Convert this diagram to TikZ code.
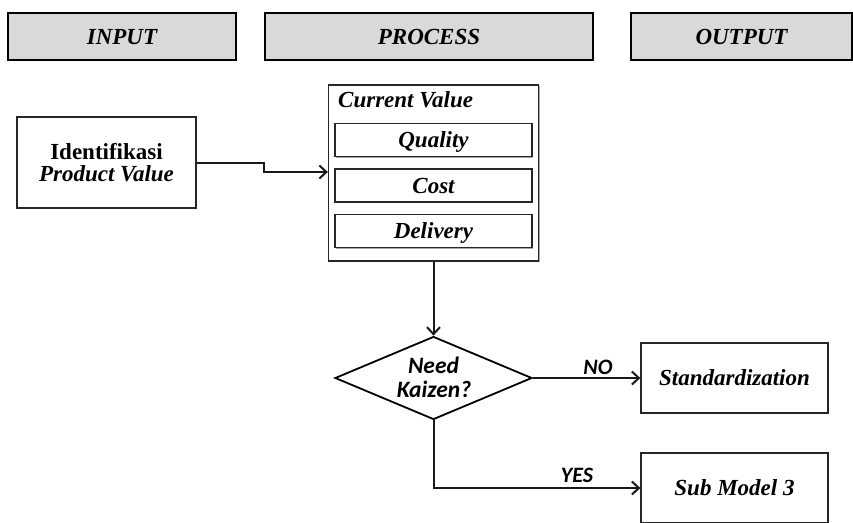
\documentclass[tikz,border=0pt]{standalone}
\usepackage{fontspec}
\setmainfont{Liberation Serif}
\newfontfamily\carlito{Carlito}
\usetikzlibrary{arrows.meta,shapes.geometric,shadows}

\begin{document}
\begin{tikzpicture}[x=1pt,y=-1pt,
  softshadow/.style={drop shadow={shadow xshift=1.3pt,shadow yshift=-1.3pt,opacity=0.35,fill=black}},
  headbox/.style={draw=black, line width=1.5pt, fill=black!15, inner sep=0pt,
    text height=15.5pt, text depth=0pt,
    font=\fontsize{23}{23}\selectfont\bfseries\itshape, softshadow},
  box/.style={draw=black!85, line width=1.3pt, fill=white, inner sep=0pt,
    text height=15.5pt, text depth=0pt,
    font=\fontsize{23}{23}\selectfont\bfseries\itshape, softshadow},
  decision/.style={diamond, draw=black, line width=1.8pt, fill=white, inner sep=0pt,
    aspect=2.4, minimum width=197pt, minimum height=83pt},
  dtext/.style={anchor=base, inner sep=0pt,
    font=\carlito\fontsize{23.5}{24}\selectfont\bfseries\itshape},
  conn/.style={draw=black!90, line width=2pt,
    -{Straight Barb[length=7pt,width=13pt]}},
  branch/.style={font=\carlito\fontsize{22}{22}\selectfont\bfseries\itshape, anchor=base}
]
\useasboundingbox (0,0) rectangle (853,522);
\clip (0,0) rectangle (853,522);

% column headers
\node[headbox, minimum width=228pt, minimum height=47pt] (hin)  at (122,36.5)   {INPUT};
\node[headbox, minimum width=328pt, minimum height=47pt] (hpro) at (429,36.5)   {PROCESS};
\node[headbox, minimum width=221pt, minimum height=47pt] (hout) at (741.5,36.5) {OUTPUT};

% input
\node[box, minimum width=179pt, minimum height=91pt, align=center,
      text height=, text depth=,
      font=\fontsize{23}{22}\selectfont\bfseries] (id) at (106.5,162.5)
      {Identifikasi\\\itshape Product Value};

% process: current value with its three measures
\node[box, minimum width=210pt, minimum height=176pt] (cv) at (433.5,173) {};
\node[anchor=base west, inner sep=0pt, font=\fontsize{23}{23}\selectfont\bfseries\itshape]
      (cvt) at (338,107) {Current Value};
\node[box, minimum width=197pt, minimum height=33pt] (qual) at (433.5,140)   {Quality};
\node[box, minimum width=197pt, minimum height=33pt] (cost) at (433.5,185.5) {Cost};
\node[box, minimum width=197pt, minimum height=33pt] (del)  at (433.5,231)   {Delivery};

% decision
\node[decision] (dec) at (433.5,378) {};
\node[dtext] (need)   at (433.5,373) {Need};
\node[dtext] (kaizen) at (434,397)   {Kaizen?};

% outputs
\node[box, minimum width=187pt, minimum height=70pt] (std) at (734.5,378) {Standardization};
\node[box, minimum width=187pt, minimum height=70pt] (sub) at (734.5,488) {Sub Model 3};

% connectors
\draw[conn] (id.east) -- ++(67,0) -- ++(0,9.5) -- (cv.west |- {(0,172)});
\draw[conn] (cv.south) -- (dec.north);
\draw[conn] (dec.east) -- (std.west);
\draw[conn] (dec.south) |- (sub.west);

% branch labels
\node[branch] (no)  at (598,374) {NO};
\node[branch] (yes) at (577,482) {YES};
\end{tikzpicture}
\end{document}
